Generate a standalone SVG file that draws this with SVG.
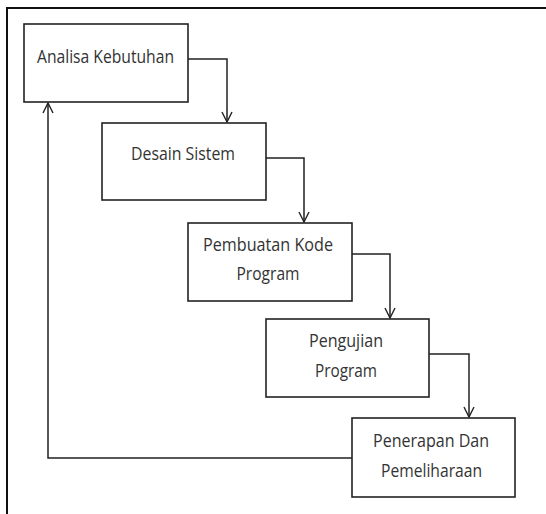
<svg xmlns="http://www.w3.org/2000/svg" width="546" height="514" viewBox="0 0 546 514">
<defs>
<marker id="arr" viewBox="0 0 12 12" refX="11" refY="6" markerWidth="12" markerHeight="12" markerUnits="userSpaceOnUse" orient="auto">
<path d="M1,1 L11,6 L1,11" fill="none" stroke="#222" stroke-width="1.4"/>
</marker>
<style>
.box{fill:#fff;stroke:#222;stroke-width:1.6}
.lbl{font-family:"Open Sans","Noto Sans",sans-serif;font-size:19px;fill:#333;text-anchor:middle}
.con{fill:none;stroke:#222;stroke-width:1.5}
.frame{fill:none;stroke:#111;stroke-width:2}
</style>
</defs>
<rect width="546" height="514" fill="#fff"/>
<path class="frame" d="M7,514 V8 H546"/>
<g id="n1">
<rect class="box" x="24" y="24" width="164" height="78"/>
<text class="lbl" x="105.5" y="63" textLength="137" lengthAdjust="spacingAndGlyphs">Analisa Kebutuhan</text>
</g>
<g id="n2">
<rect class="box" x="102" y="123" width="164" height="77"/>
<text class="lbl" x="183" y="160" textLength="104" lengthAdjust="spacingAndGlyphs">Desain Sistem</text>
</g>
<g id="n3">
<rect class="box" x="188" y="223" width="164" height="78"/>
<text class="lbl" x="268" y="250.5" textLength="130" lengthAdjust="spacingAndGlyphs">Pembuatan Kode</text>
<text class="lbl" x="268" y="280" textLength="63" lengthAdjust="spacingAndGlyphs">Program</text>
</g>
<g id="n4">
<rect class="box" x="266" y="319" width="163" height="78"/>
<text class="lbl" x="346" y="346.5" textLength="74" lengthAdjust="spacingAndGlyphs">Pengujian</text>
<text class="lbl" x="346" y="377" textLength="62" lengthAdjust="spacingAndGlyphs">Program</text>
</g>
<g id="n5">
<rect class="box" x="352" y="418" width="163" height="79"/>
<text class="lbl" x="431" y="447" textLength="116" lengthAdjust="spacingAndGlyphs">Penerapan Dan</text>
<text class="lbl" x="431.5" y="477" textLength="101" lengthAdjust="spacingAndGlyphs">Pemeliharaan</text>
</g>
<g id="connectors">
<path class="con" d="M188,59 H227 V122" marker-end="url(#arr)"/>
<path class="con" d="M266,158 H304 V222" marker-end="url(#arr)"/>
<path class="con" d="M352,254 H390 V318" marker-end="url(#arr)"/>
<path class="con" d="M429,354 H469 V417" marker-end="url(#arr)"/>
<path class="con" d="M352,458 H48 V103" marker-end="url(#arr)"/>
</g>
</svg>
